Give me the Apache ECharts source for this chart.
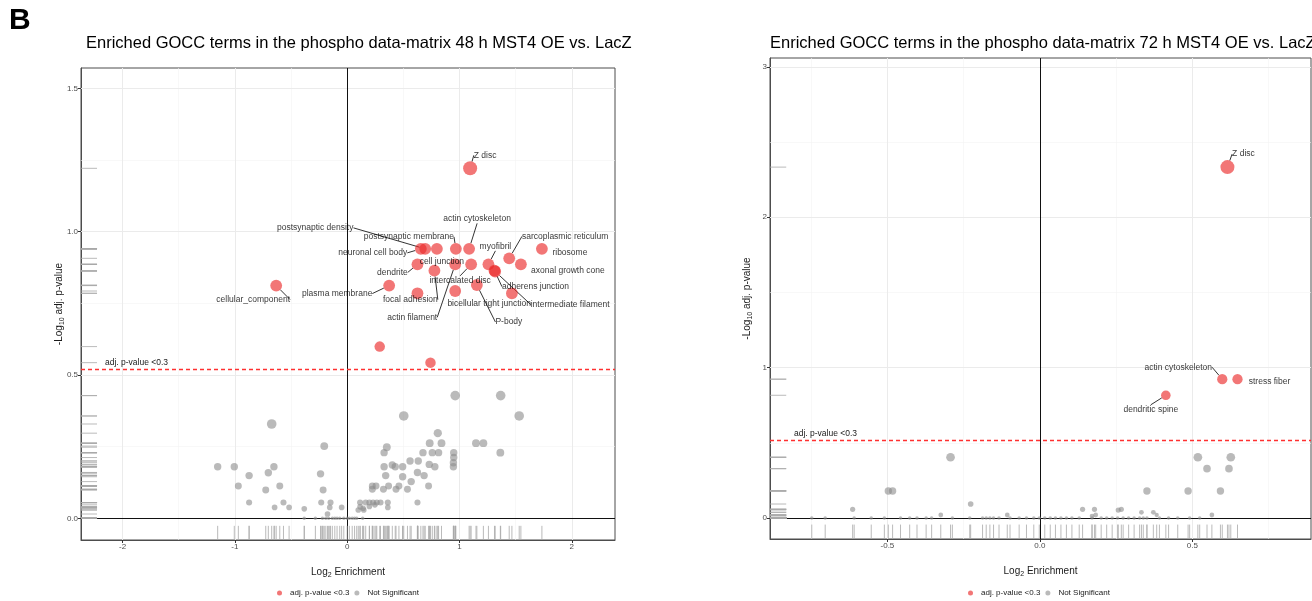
<!DOCTYPE html>
<html>
<head>
<meta charset="utf-8">
<script src="https://cdn.jsdelivr.net/npm/echarts@6/dist/echarts.min.js"></script>
<style>
html, body { margin: 0; padding: 0; background: #fff; }
#chart { width: 1312px; height: 601px; }
</style>
</head>
<body>
<div id="chart"></div>
<script>
// ---- data: 48 h MST4 OE vs LacZ ----
const title48 = 'Enriched GOCC terms in the phospho data-matrix 48 h MST4 OE vs. LacZ';
const sig48Terms = ['Z disc', 'neuronal cell body', 'postsynaptic density', 'cell junction', 'postsynaptic membrane',
    'actin cytoskeleton', 'ribosome', 'dendrite', 'focal adhesion', 'actin filament', 'intercalated disc', 'myofibril',
    'adherens junction', 'intermediate filament', 'sarcoplasmic reticulum', 'axonal growth cone', '',
    'bicellular tight junction', 'P-body', '', 'plasma membrane', 'cellular_component', '', ''];
const sig48X = [1.095, 0.656, 0.695, 0.799, 0.968, 1.086, 1.734, 0.626, 0.777, 0.962, 1.104, 1.258,
    1.312, 1.318, 1.443, 1.547, 0.626, 0.962, 1.155, 1.467, 0.374, -0.632, 0.29, 0.742];
const sig48Y = [1.221, 0.94, 0.94, 0.94, 0.94, 0.94, 0.94, 0.886, 0.864, 0.886, 0.886, 0.886,
    0.864, 0.861, 0.907, 0.886, 0.785, 0.793, 0.814, 0.785, 0.812, 0.812, 0.599, 0.543];
const sig48N = [6, 5, 5, 5, 5, 5, 5, 5, 5, 5, 5, 5, 5, 5, 5, 5, 5, 5, 5, 5, 5, 5, 4.4, 4.4];
// not significant terms: [log2 enrichment, -log10 adj p, term size]
const ns48 = [
    [0.962, 0.428, 4], [1.367, 0.428, 4], [0.504, 0.357, 4], [1.532, 0.357, 4], [-0.672, 0.329, 4],
    [0.807, 0.297, 3.4], [0.735, 0.262, 3.2], [0.84, 0.262, 3.2], [1.147, 0.262, 3.2], [1.213, 0.262, 3.2],
    [-0.204, 0.252, 3.2], [0.353, 0.248, 3.2], [0.329, 0.229, 3], [0.675, 0.229, 3], [0.758, 0.229, 3],
    [0.814, 0.229, 3], [0.949, 0.229, 3], [1.364, 0.229, 3.2], [0.949, 0.212, 3], [0.56, 0.2, 3],
    [0.633, 0.2, 3], [0.946, 0.194, 3], [0.731, 0.188, 3], [0.402, 0.186, 3], [0.428, 0.18, 3],
    [0.494, 0.18, 3], [0.329, 0.18, 3], [0.781, 0.18, 3], [0.946, 0.18, 3], [-1.153, 0.18, 3],
    [-1.005, 0.18, 3], [-0.652, 0.18, 3], [-0.702, 0.159, 3], [-0.873, 0.149, 3], [-0.237, 0.155, 3],
    [0.343, 0.149, 3], [0.494, 0.145, 3], [0.626, 0.16, 3], [0.685, 0.149, 3], [0.57, 0.128, 3],
    [-0.969, 0.113, 2.8], [-0.6, 0.113, 2.8], [-0.725, 0.099, 2.8], [-0.214, 0.099, 2.8], [0.224, 0.113, 2.8],
    [0.257, 0.113, 2.8], [0.369, 0.113, 2.8], [0.461, 0.113, 2.8], [0.725, 0.113, 2.8], [0.224, 0.101, 2.8],
    [0.323, 0.101, 2.8], [0.435, 0.101, 2.8], [0.537, 0.101, 2.8],
    [-0.873, 0.055, 2.4], [-0.567, 0.055, 2.4], [-0.231, 0.055, 2.4], [-0.148, 0.055, 2.4], [0.115, 0.055, 2.4],
    [0.165, 0.055, 2.4], [0.198, 0.055, 2.4], [0.231, 0.055, 2.4], [0.264, 0.055, 2.4], [0.297, 0.055, 2.4],
    [0.362, 0.055, 2.4], [0.626, 0.055, 2.4],
    [-0.646, 0.038, 2.2], [-0.517, 0.038, 2.2], [-0.382, 0.033, 2.2], [-0.155, 0.038, 2.2], [-0.049, 0.038, 2.2],
    [0.099, 0.029, 2.2], [0.148, 0.029, 2.2], [0.198, 0.041, 2.2], [0.247, 0.047, 2.2], [0.362, 0.038, 2.2],
    [0.142, 0.035, 2.2], [0.115, 0.04, 2.2], [-0.175, 0.015, 2.2],
    [-0.382, 0, 1.2], [-0.283, 0, 1.2], [-0.22, 0, 1.2], [-0.19, 0, 1.2], [-0.165, 0, 1.2], [-0.132, 0, 1.2],
    [-0.11, 0, 1.2], [-0.09, 0, 1.2], [-0.066, 0, 1.2], [-0.03, 0, 1.2], [0, 0, 1.2], [0.02, 0, 1.2],
    [0.045, 0, 1.2], [0.066, 0, 1.2], [0.085, 0, 1.2], [0.138, 0, 1.2]
];

// ---- data: 72 h MST4 OE vs LacZ ----
const title72 = 'Enriched GOCC terms in the phospho data-matrix 72 h MST4 OE vs. LacZ';
const sig72Terms = ['Z disc', 'actin cytoskeleton', 'stress fiber', 'dendritic spine'];
const sig72X = [0.615, 0.598, 0.648, 0.413];
const sig72Y = [2.333, 0.923, 0.923, 0.816];
const sig72N = [6, 4.3, 4.3, 4];
const ns72 = [
    [-0.293, 0.404, 3.6], [0.518, 0.404, 3.6], [0.626, 0.404, 3.6], [0.548, 0.328, 3.1], [0.62, 0.328, 3.1],
    [-0.497, 0.18, 3], [-0.483, 0.18, 3], [0.351, 0.18, 3], [0.486, 0.18, 3], [0.592, 0.18, 3],
    [-0.227, 0.093, 2.2], [-0.614, 0.058, 2], [0.14, 0.058, 2], [0.179, 0.058, 2], [0.257, 0.053, 2],
    [0.267, 0.058, 2], [0.333, 0.038, 1.8], [0.372, 0.038, 1.8], [0.383, 0.02, 1.6], [-0.325, 0.02, 1.8],
    [-0.107, 0.02, 1.8], [0.171, 0.013, 1.8], [0.183, 0.02, 1.8], [0.564, 0.02, 1.8],
    [-0.748, 0, 1.2], [-0.704, 0, 1.2], [-0.609, 0, 1.2], [-0.553, 0, 1.2], [-0.51, 0, 1.2], [-0.457, 0, 1.2],
    [-0.427, 0, 1.2], [-0.403, 0, 1.2], [-0.373, 0, 1.2], [-0.355, 0, 1.2], [-0.287, 0, 1.2], [-0.23, 0, 1.2],
    [-0.188, 0, 1.2], [-0.176, 0, 1.2], [-0.164, 0, 1.2], [-0.152, 0, 1.2], [-0.134, 0, 1.2], [-0.098, 0, 1.2],
    [-0.068, 0, 1.2], [-0.044, 0, 1.2], [-0.02, 0, 1.2], [-0.002, 0, 1.2], [0.016, 0, 1.2], [0.034, 0, 1.2],
    [0.051, 0, 1.2], [0.069, 0, 1.2], [0.087, 0, 1.2], [0.105, 0, 1.2], [0.129, 0, 1.2], [0.171, 0, 1.2],
    [0.201, 0, 1.2], [0.219, 0, 1.2], [0.237, 0, 1.2], [0.255, 0, 1.2], [0.273, 0, 1.2], [0.291, 0, 1.2],
    [0.309, 0, 1.2], [0.327, 0, 1.2], [0.339, 0, 1.2], [0.351, 0, 1.2], [0.392, 0, 1.2], [0.422, 0, 1.2],
    [0.452, 0, 1.2], [0.491, 0, 1.2], [0.524, 0, 1.2]
];

const pCutoff = 0.3;

// axis ticks / grid lines
const xTicks48 = [-2, -1, 0, 1, 2];
const xMinor48 = [-1.5, -0.5, 0.5, 1.5];
const yTicks48 = [0, 0.5, 1, 1.5];
const yMinor48 = [0.25, 0.75, 1.25];
const xTicks72 = [-0.5, 0, 0.5];
const xMinor72 = [-0.75, -0.25, 0.25, 0.75];
const yTicks72 = [0, 1, 2, 3];
const yMinor72 = [0.5, 1.5, 2.5];

// label nudges (px) for the repelled labels: [dx, dy, draw segment]
const nudge48 = {
    'Z disc': [15, -13, 1],
    'neuronal cell body': [-48, 4, 1],
    'postsynaptic density': [-110, -21, 1],
    'cell junction': [5, 13, 0],
    'postsynaptic membrane': [-47, -12, 1],
    'actin cytoskeleton': [8, -30, 1],
    'ribosome': [28, 4, 0],
    'dendrite': [-25, 8, 1],
    'focal adhesion': [-24, 29, 1],
    'actin filament': [-43, 53, 1],
    'intercalated disc': [-11, 16, 1],
    'myofibril': [7, -18, 1],
    'adherens junction': [41, 16, 1],
    'intermediate filament': [75, 33, 1],
    'sarcoplasmic reticulum': [56, -22, 1],
    'axonal growth cone': [47, 6, 0],
    'bicellular tight junction': [34, 13, 0],
    'P-body': [32, 37, 1],
    'plasma membrane': [-52, 8, 1],
    'cellular_component': [-23, 14, 1]
};
const nudge72 = {
    'Z disc': [16, -13, 1],
    'actin cytoskeleton': [-44, -12, 1],
    'stress fiber': [32, 2, 0],
    'dendritic spine': [-15, 14, 1]
};

const FONT = '"Liberation Sans", Arial, Helvetica, sans-serif';
const SIG = 'adj. p-value <0.3';
const NS = 'Not Significant';
const sizeOf = n => 3 + (n - 1) * 2.2;

const chart = echarts.init(document.getElementById('chart'), null, { renderer: 'canvas' });

function gridLines(majX, minX, majY, minY) {
    const major = { color: '#ebebeb', width: 1, type: 'solid' };
    const minor = { color: '#f4f4f4', width: 0.6, type: 'solid' };
    return [].concat(
        minX.map(v => ({ xAxis: v, lineStyle: minor })),
        minY.map(v => ({ yAxis: v, lineStyle: minor })),
        majX.map(v => ({ xAxis: v, lineStyle: major })),
        majY.map(v => ({ yAxis: v, lineStyle: major }))
    );
}

function rugItem(params, api) {
    const cs = params.coordSys;
    const p = api.coord([api.value(0), api.value(1)]);
    const bottom = cs.y + cs.height;
    const style = { stroke: '#a8a8a8', lineWidth: 0.8 };
    return {
        type: 'group',
        children: [
            { type: 'line', shape: { x1: p[0], y1: bottom, x2: p[0], y2: bottom - cs.height * 0.03 }, style },
            { type: 'line', shape: { x1: cs.x, y1: p[1], x2: cs.x + cs.width * 0.03, y2: p[1] }, style }
        ]
    };
}

function panelSeries(k, terms, xs, ys, ns, nsPts, nudge, majX, minX, majY, minY) {
    const sigItems = xs.map((x, i) => ({
        name: terms[i],
        value: [x, ys[i], ns[i]],
        labelLine: { show: !!(nudge[terms[i]] && nudge[terms[i]][2]) }
    }));
    const allPts = nsPts.map(p => [p[0], p[1]]).concat(xs.map((x, i) => [x, ys[i]]));
    return [
        {
            name: NS, type: 'scatter', xAxisIndex: k, yAxisIndex: k, z: 3, silent: true,
            data: nsPts,
            symbolSize: v => sizeOf(v[2]),
            itemStyle: { color: 'rgba(140,140,140,0.75)' },
            emphasis: { disabled: true },
            markLine: {
                z: 2, silent: true, symbol: ['none', 'none'], animation: false,
                label: { show: false }, lineStyle: { type: 'solid' }, emphasis: { disabled: true },
                data: [
                    { xAxis: 0, lineStyle: { color: '#111', width: 1, type: 'solid' } },
                    { yAxis: 0, lineStyle: { color: '#111', width: 1, type: 'solid' } },
                    {
                        yAxis: -Math.log10(pCutoff),
                        lineStyle: { color: '#ff3030', width: 1.3, type: [4, 3], opacity: 1 },
                        label: {
                            show: true, position: 'insideStartTop', formatter: SIG,
                            distance: [24, 2], fontSize: 8.5, color: '#1a1a1a', fontFamily: FONT
                        }
                    }
                ]
            }
        },
        {
            name: SIG, type: 'scatter', xAxisIndex: k, yAxisIndex: k, z: 4, silent: true,
            data: sigItems,
            symbolSize: v => sizeOf(v[2]),
            itemStyle: { color: 'rgba(235,40,40,0.8)' },
            emphasis: { disabled: true },
            label: {
                show: true, position: 'inside', formatter: p => p.name,
                fontSize: 8.5, color: '#000', fontFamily: FONT
            },
            labelLayout: p => {
                const nd = nudge[terms[p.dataIndex]];
                return nd ? { dx: nd[0], dy: nd[1] } : {};
            },
            labelLine: { show: true, lineStyle: { color: '#000', width: 0.8 } },
            markLine: {
                z: 1, silent: true, symbol: ['none', 'none'], animation: false,
                label: { show: false }, lineStyle: { type: 'solid' }, emphasis: { disabled: true },
                data: gridLines(majX, minX, majY, minY)
            }
        },
        {
            name: 'rug' + k, type: 'custom', xAxisIndex: k, yAxisIndex: k, z: 5, silent: true,
            data: allPts, encode: { x: 0, y: 1 },
            renderItem: rugItem
        }
    ];
}

const subName = {
    a: { fontSize: 10, fontFamily: FONT, color: '#1a1a1a', lineHeight: 13 },
    s: { fontSize: 7, fontFamily: FONT, color: '#1a1a1a', lineHeight: 7, verticalAlign: 'bottom' }
};

function xAxis(k, min, max, ticks, fmt) {
    return {
        type: 'value', gridIndex: k, min, max,
        axisLine: { show: true, onZero: false, lineStyle: { color: '#4d4d4d', width: 1 } },
        axisTick: { show: true, length: 3, lineStyle: { color: '#333' }, customValues: ticks },
        axisLabel: { customValues: ticks, formatter: fmt, fontSize: 8, color: '#4d4d4d', margin: 3, fontFamily: FONT },
        splitLine: { show: false },
        name: '{a|Log}{s|2}{a| Enrichment}', nameLocation: 'middle', nameGap: 26, nameMoveOverlap: false,
        nameTextStyle: { rich: subName }
    };
}

function yAxis(k, min, max, ticks, fmt, gap) {
    return {
        type: 'value', gridIndex: k, min, max,
        axisLine: { show: true, onZero: false, lineStyle: { color: '#4d4d4d', width: 1 } },
        axisTick: { show: true, length: 3, lineStyle: { color: '#333' }, customValues: ticks },
        axisLabel: { customValues: ticks, formatter: fmt, fontSize: 8, color: '#4d4d4d', margin: 3, fontFamily: FONT },
        splitLine: { show: false },
        name: '{a|-Log}{s|10}{a| adj. p-value}', nameLocation: 'middle', nameGap: gap, nameRotate: 90,
        nameMoveOverlap: false,
        nameTextStyle: { rich: subName }
    };
}

function legendAt(left) {
    return {
        left, top: 589, padding: 0, itemWidth: 11, itemHeight: 5, itemGap: 5, selectedMode: false,
        data: [{ name: SIG, icon: 'circle' }, { name: NS, icon: 'circle' }],
        textStyle: { fontSize: 8, color: '#1a1a1a', fontFamily: FONT }
    };
}

const titleStyle = { fontSize: 16.5, fontWeight: 'normal', color: '#000', fontFamily: FONT };

const option = {
    animation: false,
    backgroundColor: '#fff',
    textStyle: { fontFamily: FONT },
    title: [
        { text: 'B', left: 9, top: 6, padding: 0, textStyle: { fontSize: 30, fontWeight: 'bold', color: '#000', fontFamily: FONT } },
        { text: title48, left: 86, top: 35, padding: 0, textStyle: titleStyle },
        { text: title72, left: 770, top: 35, padding: 0, textStyle: titleStyle }
    ],
    legend: [legendAt(277), legendAt(968)],
    grid: [
        { left: 81, top: 68, width: 534, height: 472, show: true, borderColor: '#4d4d4d', borderWidth: 1, containLabel: false, outerBoundsMode: 'none' },
        { left: 770, top: 58, width: 541, height: 481, show: true, borderColor: '#4d4d4d', borderWidth: 1, containLabel: false, outerBoundsMode: 'none' }
    ],
    xAxis: [
        xAxis(0, -2.37, 2.385, xTicks48, v => String(v)),
        xAxis(1, -0.885, 0.889, xTicks72, v => v.toFixed(1))
    ],
    yAxis: [
        yAxis(0, -0.0757, 1.571, yTicks48, v => v.toFixed(1), 15),
        yAxis(1, -0.1396, 3.0585, yTicks72, v => String(v), 16)
    ],
    series: [].concat(
        panelSeries(0, sig48Terms, sig48X, sig48Y, sig48N, ns48, nudge48, xTicks48, xMinor48, yTicks48, yMinor48),
        panelSeries(1, sig72Terms, sig72X, sig72Y, sig72N, ns72, nudge72, xTicks72, xMinor72, yTicks72, yMinor72)
    )
};

chart.setOption(option);
</script>
</body>
</html>
